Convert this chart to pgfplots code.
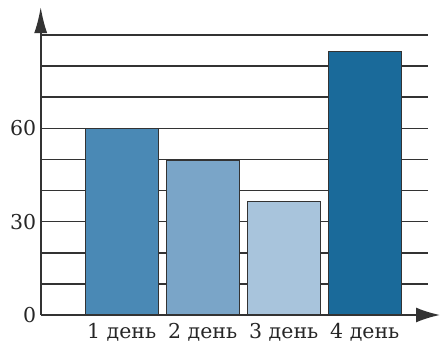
\documentclass[border=0pt]{standalone}
\usepackage{fontspec}
\setmainfont{DejaVu Serif}
\usepackage{pgfplots}
\pgfplotsset{compat=1.18}
\usetikzlibrary{arrows.meta}
\definecolor{bone}{HTML}{4A89B5}
\definecolor{btwo}{HTML}{7AA5C8}
\definecolor{bthree}{HTML}{A8C4DC}
\definecolor{bfour}{HTML}{1A6A9A}
\definecolor{gridc}{HTML}{333333}
\begin{document}
\begin{tikzpicture}
\path[use as bounding box] (-40.7pt,-29pt) rectangle (401.3pt,315pt);
\begin{axis}[
  scale only axis, width=387.3pt, height=280pt,
  xmin=-1, xmax=3.78, ymin=0, ymax=90,
  axis lines=left,
  axis line style={line width=1.8pt, color=gridc},
  every outer x axis line/.append style={-{Latex[length=24pt,width=15pt]}, shorten >=-12pt},
  every outer y axis line/.append style={-{Latex[length=26pt,width=13pt]}, shorten >=-28pt},
  ytick={0,30,60}, minor ytick={10,20,40,50,70,80,90},
  ymajorgrids, yminorgrids,
  major grid style={line width=1.6pt, color=gridc},
  minor grid style={line width=1.6pt, color=gridc},
  major tick length=0pt, minor tick length=0pt,
  xtick={0,1,2,3}, xticklabels={1 день,2 день,3 день,4 день},
  tick label style={font=\fontsize{20.5}{20.5}\selectfont, text=black!85},
  /pgf/number format/assume math mode=true,
  yticklabel style={xshift=-1pt},
  xticklabel style={yshift=-5pt},
  ybar, bar width=0.9, bar shift=0pt,
]
\addplot[fill=bone, draw=gridc, line width=1.2pt] coordinates {(0,60)};
\addplot[fill=btwo, draw=gridc, line width=1.2pt] coordinates {(1,49.6)};
\addplot[fill=bthree, draw=gridc, line width=1.2pt] coordinates {(2,36.6)};
\addplot[fill=bfour, draw=gridc, line width=1.2pt] coordinates {(3,84.7)};
\end{axis}
\end{tikzpicture}
\end{document}
